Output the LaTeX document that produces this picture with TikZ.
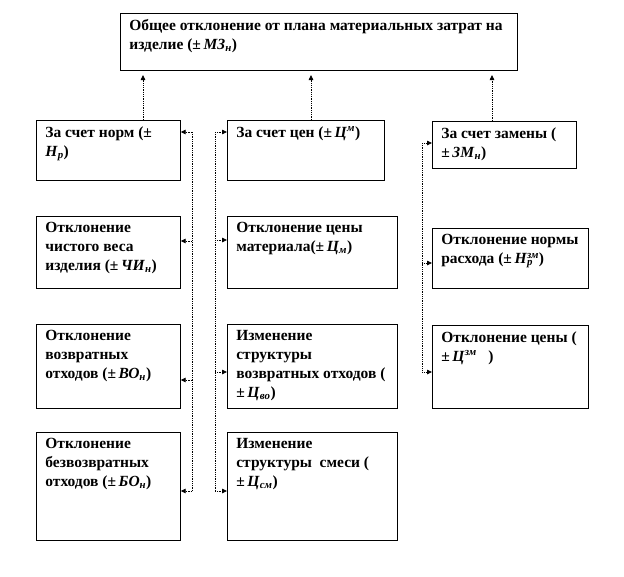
\documentclass[tikz,border=0pt]{standalone}
\usepackage{fontspec}
\setmainfont{Liberation Serif}
\usepackage{tikz}
\usetikzlibrary{arrows.meta}

\newcommand{\sbs}[2]{\textit{#1}\textsubscript{\textit{#2}}}
\newcommand{\sps}[2]{\textit{#1}\textsuperscript{\textit{#2}}}
\newcommand{\spsb}[3]{\textit{#1}\rlap{\textsubscript{\textit{#3}}}\textsuperscript{\textit{#2}}}
\newcommand{\celltext}[3]{\parbox[c][\dimexpr#2pt-12pt\relax][t]{\dimexpr#1pt-18pt\relax}{\raggedright #3}}

\begin{document}
\begin{tikzpicture}[x=1pt, y=-1pt,
  cell/.style={draw, line width=0.7pt, anchor=north west, inner xsep=9pt, inner ysep=6pt, font=\bfseries\fontsize{15.5}{19}\selectfont},
  bus/.style={densely dotted, line width=0.8pt},
  arr/.style={bus, -{Triangle[length=5pt,width=4.5pt]}}
]
\useasboundingbox (0,0) rectangle (624,576);
\node[cell] (total) at (120,13) {\celltext{397}{57}{Общее отклонение от плана материальных затрат на\\изделие (±\,\sbs{МЗ}{н})}};

\node[cell] (nrm) at (36,120) {\celltext{144}{60}{За счет норм (±\\\sbs{Н}{р})}};
\node[cell] (ves) at (36,216) {\celltext{144}{72}{Отклонение\\чистого веса\\изделия (±\,\sbs{ЧИ}{н})}};
\node[cell] (vozv) at (36,324) {\celltext{144}{84}{Отклонение\\возвратных\\отходов (±\,\sbs{ВО}{н})}};
\node[cell] (bezv) at (36,432) {\celltext{144}{108}{Отклонение\\безвозвратных\\отходов (±\,\sbs{БО}{н})}};

\node[cell] (cen) at (227,120) {\celltext{157}{60}{За счет цен (±\,\sps{Ц}{м})}};
\node[cell] (cmat) at (227,216) {\celltext{170}{72}{Отклонение цены\\материала(±\,\sbs{Ц}{м})}};
\node[cell] (cvo) at (227,324) {\celltext{170}{84}{Изменение\\структуры\\возвратных отходов (\\±\,\sbs{Ц}{во})}};
\node[cell] (csm) at (227,432) {\celltext{170}{108}{Изменение\\структуры~ смеси (\\±\,\sbs{Ц}{см})}};

\node[cell] (zam) at (432,121) {\celltext{144}{47}{За счет замены (\\±\,\sbs{ЗМ}{н})}};
\node[cell] (nzam) at (432,228) {\celltext{156}{60}{Отклонение нормы\\расхода (±\,\spsb{Н}{зм}{р})}};
\node[cell] (czam) at (432,325) {\celltext{156}{83}{Отклонение цены (\\±\,\sps{Ц}{зм}~~~)}};

\coordinate (t1) at (143,75);
\coordinate (t2) at (311,75);
\coordinate (t3) at (492,75);
\coordinate (lb1) at (192,132);
\coordinate (lb2) at (192,241);
\coordinate (lb3) at (192,380);
\coordinate (lb4) at (192,491);
\coordinate (mb1) at (215,132);
\coordinate (mb2) at (215,240);
\coordinate (mb3) at (215,372);
\coordinate (mb4) at (215,491);
\coordinate (rb1) at (422,143);
\coordinate (rb2) at (422,263);
\coordinate (rb3) at (422,372);

\foreach \c/\b in {t1/nrm,t2/cen,t3/zam}
  \draw[arr] (\b.north -| \c) -- (\c);

\draw[bus] (lb1) -- (lb4);
\foreach \c/\b in {lb1/nrm,lb2/ves,lb3/vozv,lb4/bezv}
  \draw[arr] (\c) -- (\c -| \b.east);

\draw[bus] (mb1) -- (mb4);
\foreach \c/\b in {mb1/cen,mb2/cmat,mb3/cvo,mb4/csm}
  \draw[arr] (\c) -- (\c -| \b.west);

\draw[bus] (rb1) -- (rb3);
\foreach \c/\b in {rb1/zam,rb2/nzam,rb3/czam}
  \draw[arr] (\c) -- (\c -| \b.west);
\end{tikzpicture}
\end{document}
